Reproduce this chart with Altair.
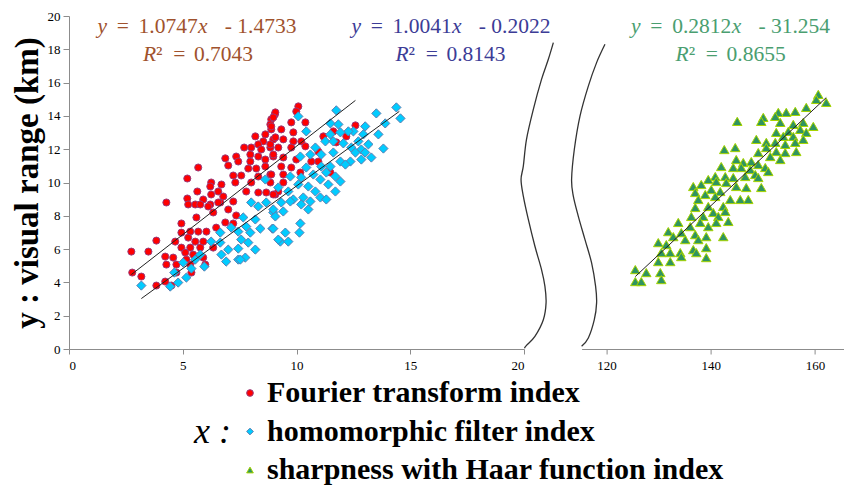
import altair as alt
import pandas as pd

SERIES = ["Fourier transform index", "homomorphic filter index", "sharpness with Haar function index"]
FILLS = ["#FF0000", "#00CCFF", "#2F9460"]
STROKES = ["#9A3A7A", "#5B7DB1", "#A6D400"]
SHAPES = ["circle", "diamond", "triangle-up"]

fourier_x = [9.05, 8.89, 8.85, 8.89, 8.63, 8.19, 8.54, 8.32, 8.01, 7.70, 8.98, 8.85, 8.45, 7.97, 8.32,
             8.98, 7.35, 7.44, 6.87, 7.00, 7.97, 8.63, 7.88, 8.23, 8.63, 5.68, 7.22, 7.57, 8.32, 8.85,
             5.20, 6.25, 7.31, 6.70, 8.01, 6.21, 7.79, 8.32, 8.67, 5.64, 6.56, 6.78, 6.25, 5.20, 5.90,
             4.28, 5.55, 6.21, 6.65, 7.22, 9.07,
             10.08, 9.99, 9.07, 8.98, 9.77, 10.39, 8.89, 9.33, 9.86, 9.07, 9.42, 9.86, 10.21, 11.18,
             11.62, 12.19, 12.59, 11.75, 8.85, 9.20, 9.77, 10.39, 10.96, 8.98, 9.42, 9.99, 10.65, 10.96,
             9.33, 9.77, 10.17, 11.49, 8.89, 9.42, 8.85, 9.42, 9.20, 8.98,
             5.24, 5.77, 6.12, 6.56, 5.60, 6.34, 7.00, 7.35, 4.94, 6.87, 7.22, 4.94, 5.33, 5.68, 6.04,
             6.47, 3.84, 4.67, 5.24, 5.55, 5.90, 4.94, 5.33, 5.77, 6.34, 2.74, 3.49, 5.11, 5.46, 4.23,
             4.58, 5.16, 5.90, 4.28, 4.72, 5.33, 5.99, 2.78, 4.72, 5.38, 3.18, 4.23, 3.84, 4.50]
fourier_y = [14.09, 13.79, 13.49, 13.19, 12.89, 12.77, 12.47, 12.29, 12.10, 12.10, 12.59, 12.10, 11.98, 11.68, 11.56,
             11.56, 11.56, 11.26, 11.45, 11.02, 11.26, 11.38, 10.84, 10.84, 10.96, 10.90, 10.42, 10.42, 10.36, 10.48,
             10.24, 10.00, 10.00, 9.88, 10.00, 9.76, 9.46, 9.40, 9.40, 9.46, 9.46, 9.16, 9.28, 9.04, 8.98,
             8.80, 8.68, 8.68, 8.80, 8.86, 9.28,
             14.57, 14.27, 14.21, 13.91, 13.61, 13.61, 13.37, 13.19, 13.01, 12.71, 12.59, 12.47, 12.47, 12.77,
             13.07, 12.77, 13.43, 12.41, 12.29, 12.10, 12.10, 12.17, 11.86, 11.68, 11.50, 11.38, 11.26, 11.26,
             10.96, 10.90, 10.60, 10.60, 10.48, 10.48, 10.00, 10.00, 9.46, 9.28,
             8.68, 8.68, 8.56, 8.80, 7.90, 8.20, 8.38, 8.02, 7.54, 7.60, 7.54, 6.99, 7.05, 7.05, 7.05,
             7.29, 6.51, 6.45, 6.69, 6.45, 6.45, 6.09, 6.09, 6.09, 6.09, 5.85, 5.85, 5.79, 5.67, 5.55,
             5.49, 5.37, 5.49, 5.07, 5.07, 5.07, 5.07, 4.59, 4.59, 4.59, 4.35, 4.05, 3.81, 3.81]

homo_x = [11.75, 14.39, 14.57, 13.51, 13.90, 11.49, 11.84, 10.43, 13.02, 12.50, 12.28, 11.93, 13.60, 12.94, 11.49,
          11.27, 11.62, 12.06, 12.72, 13.16, 13.82, 10.83, 12.41, 12.85, 10.61, 11.09, 11.62, 12.59, 13.02, 13.29,
          10.17, 11.93, 12.37, 12.85, 12.15, 11.49, 11.09, 10.43, 10.74, 11.31, 11.71, 11.93, 9.73, 10.21, 11.05,
          11.40, 11.71, 10.08, 10.52, 10.83, 9.64, 9.20, 10.30, 10.61, 11.05, 11.31, 9.33, 9.86, 10.21, 10.08,
          9.73, 10.52, 8.98, 9.42, 9.07, 8.94, 10.17, 10.13, 9.51, 9.29, 9.64,
          8.01, 8.32, 8.67, 8.98, 7.66, 8.19, 7.13, 7.44, 7.79, 7.97, 8.41, 8.98, 6.65, 6.25, 6.65,
          7.57, 7.88, 8.19, 7.00, 7.44, 6.70, 7.75, 7.44, 6.91, 5.77, 5.55, 5.02, 5.95, 5.38, 4.63,
          5.16, 4.80, 3.18, 4.45, 9.20, 7.53, 8.63]
homo_y = [14.33, 14.51, 13.85, 14.15, 13.55, 13.55, 13.49, 13.07, 13.37, 13.07, 13.07, 13.01, 12.89, 12.89, 12.89,
          12.47, 12.47, 12.35, 12.47, 12.29, 12.04, 12.10, 12.10, 11.98, 11.68, 11.68, 11.80, 11.80, 11.80, 11.50,
          11.56, 11.26, 11.26, 11.38, 11.08, 10.96, 10.96, 10.90, 10.48, 10.60, 10.36, 10.06, 10.36, 10.30, 10.18,
          9.88, 9.46, 9.88, 9.76, 9.46, 9.46, 9.70, 9.10, 8.86, 9.10, 8.98, 8.80, 8.98, 8.68, 13.97,
          8.86, 8.38, 8.20, 8.26, 7.96, 7.23, 7.54, 6.99, 6.99, 6.45, 6.45,
          8.80, 8.56, 8.80, 8.38, 7.90, 7.78, 7.29, 7.05, 7.35, 6.99, 7.23, 7.23, 6.99, 6.45, 6.39,
          6.57, 6.39, 5.97, 5.97, 6.03, 5.67, 5.49, 5.37, 5.25, 5.67, 5.37, 5.19, 4.95, 4.83, 4.59,
          4.29, 3.99, 3.81, 3.75, 6.57, 5.37, 10.18]

haar_x = [160.64, 160.25, 162.17, 158.33, 156.22, 154.49, 152.96, 152.38, 150.08, 149.70, 145.08, 153.34, 155.84,
          157.76, 159.68, 157.18, 158.33, 154.88, 152.57, 153.92, 155.84, 157.76, 148.74, 152.38, 150.66, 154.30,
          156.22, 144.70, 142.59, 150.66, 152.57, 156.41, 154.30, 149.12, 151.42, 153.34, 144.89, 146.24, 147.78,
          149.12, 150.46, 151.04, 142.01, 144.32, 145.85, 147.58, 148.54, 140.86, 142.78, 144.32, 146.62, 149.12,
          139.52, 141.05, 142.97, 149.70, 146.81, 144.89, 136.64, 138.17, 140.09, 141.82, 137.02, 138.94, 140.86,
          145.66, 147.20, 143.74, 137.60, 142.40, 139.52, 137.02, 142.78, 140.48, 138.56, 136.26, 141.44, 143.36,
          133.76, 131.84, 136.06, 137.98, 139.52, 141.05, 134.34, 137.02, 139.13, 142.40, 132.80, 129.92, 131.46,
          135.10, 137.60, 130.50, 132.22, 134.14, 136.64, 139.13, 137.22, 129.92, 132.22, 134.34, 139.13, 125.51,
          127.62, 130.31, 130.50, 125.51, 126.66]
haar_y = [15.29, 14.99, 14.81, 14.51, 14.27, 14.21, 14.21, 13.97, 13.91, 13.67, 13.67, 13.61, 13.49,
          13.61, 13.37, 13.19, 13.01, 13.07, 13.01, 12.77, 12.77, 12.59, 12.59, 12.41, 12.41, 12.29,
          12.41, 12.10, 11.98, 12.10, 11.86, 11.86, 11.80, 11.80, 11.56, 11.38, 11.38, 11.20, 11.26,
          11.08, 10.90, 10.66, 10.96, 10.90, 10.90, 10.78, 10.48, 10.36, 10.36, 10.30, 10.36, 10.30,
          10.18, 10.06, 10.00, 9.70, 9.70, 9.76, 9.76, 9.88, 9.58, 9.46, 9.40, 9.28, 9.16,
          8.98, 8.98, 8.98, 8.98, 8.56, 8.56, 8.50, 8.26, 8.20, 7.96, 7.96, 7.96, 7.66,
          7.60, 7.05, 7.35, 7.60, 7.35, 7.60, 6.99, 6.87, 6.75, 6.75, 6.75, 6.39, 6.27,
          6.57, 6.57, 5.79, 5.79, 5.79, 5.97, 6.09, 5.79, 5.25, 5.25, 5.55, 5.49, 4.77,
          4.59, 4.59, 4.17, 4.05, 4.05]

# trend lines as drawn (end points)
fit_x = [2.74, 12.59, 3.18, 14.52, 125.51, 162.17]
fit_y = [4.47, 14.93, 3.03, 14.27, 4.35, 15.10]
fit_series = [SERIES[0], SERIES[0], SERIES[1], SERIES[1], SERIES[2], SERIES[2]]

# axis-break curves
break_left_x = [20.02, 20.11, 20.48, 20.85, 20.97, 20.92, 20.77, 20.48, 20.19, 19.97, 19.87, 19.97, 20.11, 20.41,
                20.77, 21.07, 21.29]
break_left_y = [0.05, 0.22, 0.76, 1.76, 2.77, 3.76, 4.77, 6.17, 7.78, 9.18, 10.18, 10.98, 12.59, 14.39, 16.19,
                17.40, 18.40]
break_right_x = [115.2, 116.49, 117.64, 118.08, 117.89, 117.12, 115.85, 114.57, 113.61, 113.28, 113.80, 114.89,
                 116.49, 118.08, 119.69]
break_right_y = [0.16, 0.66, 1.76, 2.77, 3.76, 5.17, 6.57, 7.97, 9.18, 10.18, 11.98, 13.99, 15.79, 17.20, 18.30]

left_ticks = [0, 5, 10, 15, 20]
right_ticks = [120, 140, 160]
y_ticks = [0, 2, 4, 6, 8, 10, 12, 14, 16, 18, 20]

# equation annotations: (text, italic, gap before in em) pieces per line
EQUATIONS = [
    [("y", True, 0), ("=", False, .45), ("1.0747", False, .45), ("x", True, .02), ("-", False, .8), ("1.4733", False, .25)],
    [("R", True, 0), ("²", False, 0), ("=", False, .5), ("0.7043", False, .4)],
    [("y", True, 0), ("=", False, .45), ("1.0041", False, .45), ("x", True, .02), ("-", False, .8), ("0.2022", False, .25)],
    [("R", True, 0), ("²", False, 0), ("=", False, .5), ("0.8143", False, .4)],
    [("y", True, 0), ("=", False, .45), ("0.2812", False, .45), ("x", True, .02), ("-", False, .8), ("31.254", False, .25)],
    [("R", True, 0), ("²", False, 0), ("=", False, .5), ("0.8655", False, .4)],
]
EQ_COLORS = ["#A0522D", "#A0522D", "#3C3C96", "#3C3C96", "#4A9E70", "#4A9E70"]

SERIF = "Liberation Serif"
EQ_SIZE = 21.5
# Times / Liberation Serif advance widths (em)
ADV = {"0": .5, "1": .5, "2": .5, "3": .5, "4": .5, "5": .5, "6": .5, "7": .5, "8": .5, "9": .5,
       ".": .25, "=": .564, "-": .333, "²": .3}
ADV_IT = {"x": .444, "y": .444, "R": .611}


def piece_width(t, it):
    return sum((ADV_IT if it else ADV).get(c, .5) for c in t) * EQ_SIZE


pts = pd.DataFrame({
    "series": [SERIES[0]] * len(fourier_x) + [SERIES[1]] * len(homo_x) + [SERIES[2]] * len(haar_x),
    "x": fourier_x + homo_x + haar_x,
    "y": fourier_y + homo_y + haar_y,
})
fits = pd.DataFrame({"series": fit_series, "x": fit_x, "y": fit_y})
brk_l = pd.DataFrame({"x": break_left_x, "y": break_left_y, "i": range(len(break_left_x))})
brk_r = pd.DataFrame({"x": break_right_x, "y": break_right_y, "i": range(len(break_right_x))})

leg = alt.Legend(
    title="x :", titleOrient="left", titleFont=SERIF, titleFontSize=36, titleFontStyle="italic",
    titleFontWeight="normal", titleColor="black", titlePadding=4, titleAnchor="middle", titleBaseline="middle",
    labelFont=SERIF, labelFontSize=30, labelFontWeight="bold", labelColor="black", labelLimit=700,
    labelOffset=2, symbolSize=45, symbolStrokeWidth=1, rowPadding=8.5,
    orient="none", legendX=125, legendY=362,
)

ys = alt.Scale(domain=[0, 20], nice=False, zero=False)
xs_l = alt.Scale(domain=[0, 20], nice=False, zero=False)
xs_r = alt.Scale(domain=[115.2, 165.5], nice=False, zero=False)

ax_common = dict(labelFont=SERIF, labelFontSize=13, labelColor="black", domainColor="#8c8c8c",
                 tickColor="#8c8c8c", grid=False, labelOverlap=False)
ay = alt.Axis(values=y_ticks, tickSize=6, labelPadding=3, title="y : visual range (km)",
              titleFont=SERIF, titleFontSize=33, titleFontWeight="bold", titleColor="black",
              titlePadding=3, **ax_common)
axl = alt.Axis(values=left_ticks, tickSize=5, labelPadding=5, title=None, **ax_common)
axr = alt.Axis(values=right_ticks, tickSize=5, labelPadding=5, title=None, **ax_common)


def enc(xscale, xaxis, yaxis):
    return dict(
        x=alt.X("x:Q", scale=xscale, axis=xaxis),
        y=alt.Y("y:Q", scale=ys, axis=yaxis),
        fill=alt.Fill("series:N", scale=alt.Scale(domain=SERIES, range=FILLS), legend=leg),
        stroke=alt.Stroke("series:N", scale=alt.Scale(domain=SERIES, range=STROKES), legend=leg),
        shape=alt.Shape("series:N", scale=alt.Scale(domain=SERIES, range=SHAPES), legend=leg),
    )


def eq_text(i, cx, y):
    pieces = EQUATIONS[i]
    total = sum(piece_width(t, it) + g * EQ_SIZE for t, it, g in pieces)
    x0 = cx - total / 2
    layers = []
    for t, it, g in pieces:
        x0 += g * EQ_SIZE
        layers.append(alt.Chart(pd.DataFrame({"t": [t]})).mark_text(
            font=SERIF, fontSize=EQ_SIZE, color=EQ_COLORS[i], align="left", baseline="alphabetic",
            fontStyle="italic" if it else "normal"
        ).encode(text="t:N", x=alt.value(x0), y=alt.value(y)))
        x0 += piece_width(t, it)
    return layers


red = alt.Chart(pts[pts.series == SERIES[0]]).mark_point(size=50, opacity=1, strokeWidth=1).encode(
    **enc(xs_l, axl, ay))
blue = alt.Chart(pts[pts.series == SERIES[1]]).mark_point(size=85, opacity=1, strokeWidth=1).encode(
    **enc(xs_l, axl, ay))
fit_l = alt.Chart(fits[fits.series != SERIES[2]]).mark_line(color="#222222", strokeWidth=1).encode(
    x=alt.X("x:Q", scale=xs_l, axis=axl), y=alt.Y("y:Q", scale=ys, axis=ay), detail="series:N")
curve_l = alt.Chart(brk_l).mark_line(color="#333333", strokeWidth=1.3, clip=False, interpolate="cardinal").encode(
    x=alt.X("x:Q", scale=xs_l, axis=axl), y=alt.Y("y:Q", scale=ys, axis=ay), order="i:Q")

left = alt.layer(red, blue, fit_l, curve_l,
                 *eq_text(0, 128, 17), *eq_text(1, 129, 45), *eq_text(2, 382, 17), *eq_text(3, 381.5, 45)
                 ).properties(width=455, height=333)

green = alt.Chart(pts[pts.series == SERIES[2]]).mark_point(size=90, opacity=1, strokeWidth=1).encode(
    **enc(xs_r, axr, None))
fit_r = alt.Chart(fits[fits.series == SERIES[2]]).mark_line(color="#222222", strokeWidth=1).encode(
    x=alt.X("x:Q", scale=xs_r, axis=axr), y=alt.Y("y:Q", scale=ys, axis=None), detail="series:N")
curve_r = alt.Chart(brk_r).mark_line(color="#333333", strokeWidth=1.3, clip=False, interpolate="cardinal").encode(
    x=alt.X("x:Q", scale=xs_r, axis=axr), y=alt.Y("y:Q", scale=ys, axis=None), order="i:Q")

right = alt.layer(green, fit_r, curve_r, *eq_text(4, 149, 17), *eq_text(5, 149, 45)
                  ).properties(width=262, height=333)

chart = alt.hconcat(left, right, spacing=57.6, bounds="flush").properties(
    padding={"left": 3, "top": 2, "right": 0, "bottom": 0}
).configure_view(stroke=None).configure_axis(labelOverlap=False)

chart.save("out.html", embed_options={"renderer": "svg", "actions": False})
